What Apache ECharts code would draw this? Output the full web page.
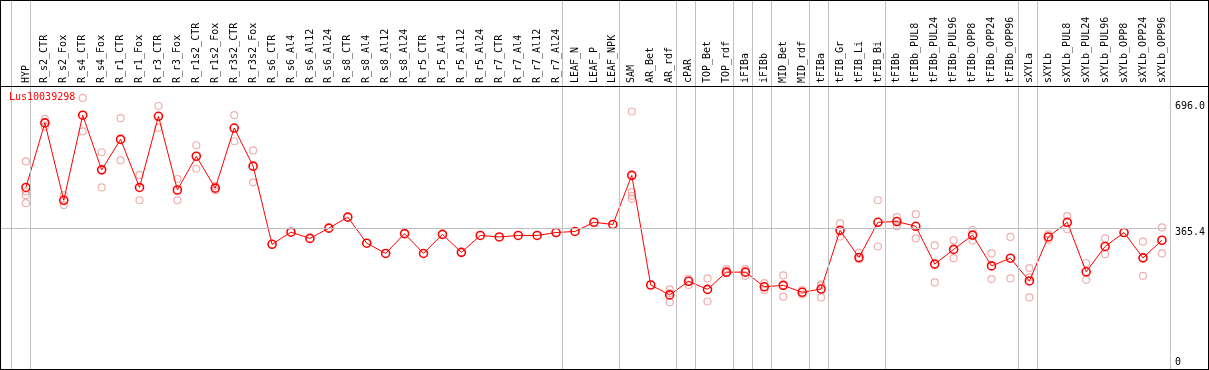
<!DOCTYPE html>
<html>
<head>
<meta charset="utf-8">
<script src="https://cdn.jsdelivr.net/npm/echarts/dist/echarts.min.js"></script>
<style>
  html, body { margin: 0; padding: 0; background: #fff; }
  #frame { width: 1209px; height: 370px; box-sizing: border-box; border: 1px solid #000; }
  #chart { width: 1207px; height: 368px; }
</style>
</head>
<body>
<div id="frame"><div id="chart"></div></div>
<script>
const geneName = 'Lus10039298';

const categories = [
  'HYP','R_s2_CTR','R_s2_Fox','R_s4_CTR','R_s4_Fox','R_r1_CTR','R_r1_Fox','R_r3_CTR','R_r3_Fox',
  'R_r1s2_CTR','R_r1s2_Fox','R_r3s2_CTR','R_r3s2_Fox','R_s6_CTR','R_s6_Al4','R_s6_Al12','R_s6_Al24',
  'R_s8_CTR','R_s8_Al4','R_s8_Al12','R_s8_Al24','R_r5_CTR','R_r5_Al4','R_r5_Al12','R_r5_Al24',
  'R_r7_CTR','R_r7_Al4','R_r7_Al12','R_r7_Al24','LEAF_N','LEAF_P','LEAF_NPK','SAM','AR_Bet','AR_rdf',
  'cPAR','TOP_Bet','TOP_rdf','iFIBa','iFIBb','MID_Bet','MID_rdf','tFIBa','tFIB_Gr','tFIB_Li','tFIB_Bi',
  'tFIBb','tFIBb_PUL8','tFIBb_PUL24','tFIBb_PUL96','tFIBb_OPP8','tFIBb_OPP24','tFIBb_OPP96',
  'sXYLa','sXYLb','sXYLb_PUL8','sXYLb_PUL24','sXYLb_PUL96','sXYLb_OPP8','sXYLb_OPP24','sXYLb_OPP96'
];

// number of categories in each sample group (separated by vertical lines)
const groupSizes = [1, 28, 3, 3, 1, 2, 1, 1, 2, 1, 3, 7, 1, 7];

const means = [
  476, 652, 441, 673, 524, 607, 476, 670, 469,
  561, 474, 638, 534, 321, 354, 337, 365,
  395, 324, 296, 350, 296, 348, 299, 345,
  341, 345, 345, 353, 356, 381, 375, 509, 210, 183,
  220, 198, 245, 245, 205, 209, 190, 199, 359, 285, 381,
  383, 370, 267, 307, 346, 262, 283,
  221, 341, 381, 246, 315, 353, 284, 332
];

const replicates = [
  [547, 465, 455, 433], [663, 642], [455, 428], [720, 629], [572, 476], [665, 550], [510, 441], [698, 639], [499, 441],
  [591, 527], [480, 468], [673, 602], [577, 490], [], [], [], [],
  [], [], [], [], [], [], [], [],
  [], [], [], [], [], [], [], [683, 463, 453, 445], [], [198, 188, 163],
  [227, 210], [228, 165], [253, 242], [253, 235], [215, 196], [236, 178], [196, 184], [212, 209, 176], [378, 342], [298, 280], [441, 315],
  [395, 370], [403, 337], [318, 217], [332, 283], [360, 331], [296, 226], [341, 228],
  [256, 231, 176], [348, 333], [398, 362], [270, 224], [337, 294], [], [328, 235], [367, 296]
];

const yTickValues = [0, 365.4, 696.0];
const refLineValue = 365.4;

// ---- derived ----
const meanData = means.map((v, i) => [i, v]);
const repData = [];
replicates.forEach((arr, i) => arr.forEach(v => repData.push([i, v])));

const boundaries = [-1];
let acc = 0;
groupSizes.forEach(s => { acc += s; boundaries.push(acc - 1); });

const FONT = 'DejaVu Sans Mono';
const X_MIN = -1.3158, X_MAX = 60.2632;
const SEP_OFFSET = 0.24;

const chart = echarts.init(document.getElementById('chart'), null, { renderer: 'canvas' });
chart.setOption({
  animation: false,
  backgroundColor: '#fff',
  title: {
    text: geneName, left: 8, top: 91, padding: 0,
    textStyle: { color: '#ff0000', fontSize: 10, fontFamily: FONT, fontWeight: 'normal' }
  },
  graphic: [{
    type: 'line', silent: true, z: 100,
    shape: { x1: 0, y1: 85.5, x2: 1207, y2: 85.5 },
    style: { stroke: '#000', lineWidth: 1 }
  }],
  grid: [
    { left: 0, right: 37, top: 85, bottom: 7, containLabel: false },
    { left: 0, right: 37, top: 0, bottom: 0, containLabel: false }
  ],
  xAxis: [
    {
      type: 'value', gridIndex: 0, position: 'top', min: X_MIN, max: X_MAX,
      axisLine: { show: false }, axisTick: { show: false }, splitLine: { show: false },
      axisLabel: {
        customValues: categories.map((c, i) => i),
        formatter: v => categories[Math.round(v)] || '',
        rotate: 90, margin: 3, color: '#000', fontSize: 10, fontFamily: FONT,
        showMinLabel: true, showMaxLabel: true, hideOverlap: false
      }
    },
    { type: 'value', gridIndex: 1, min: X_MIN, max: X_MAX, show: false }
  ],
  yAxis: [
    {
      type: 'value', gridIndex: 0, position: 'right', min: 0, max: 752.6,
      axisLine: { show: false }, axisTick: { show: false }, splitLine: { show: false },
      axisLabel: {
        customValues: yTickValues,
        formatter: v => {
          if (v === 0) return '0';
          if (Math.abs(v - refLineValue) < 0.01) return '{d|' + v.toFixed(1) + '}';
          return v.toFixed(1);
        },
        margin: 8, color: '#000', fontSize: 10, fontFamily: FONT,
        rich: { d: { color: '#000', fontSize: 10, fontFamily: FONT, padding: [8, 0, 0, 0] } }
      }
    },
    { type: 'value', gridIndex: 1, min: 0, max: 1, show: false }
  ],
  series: [
    {
      type: 'line', xAxisIndex: 1, yAxisIndex: 1, data: [], silent: true, z: 1,
      markLine: {
        silent: true, symbol: 'none', label: { show: false },
        lineStyle: { color: '#c0c0c0', width: 1, type: 'solid' },
        emphasis: { disabled: true },
        data: boundaries.map(b => ({ xAxis: b + SEP_OFFSET }))
      }
    },
    {
      type: 'scatter', xAxisIndex: 0, yAxisIndex: 0, data: repData, z: 2,
      symbol: 'circle', symbolSize: 7,
      itemStyle: { color: 'rgba(0,0,0,0)', borderColor: '#ec9b9b', borderWidth: 1.2 },
      silent: true
    },
    {
      type: 'line', xAxisIndex: 0, yAxisIndex: 0, data: meanData, z: 3,
      symbol: 'circle', symbolSize: 8, showAllSymbol: true,
      lineStyle: { color: '#ff0000', width: 1 },
      itemStyle: { color: 'rgba(0,0,0,0)', borderColor: '#ff0000', borderWidth: 1.6 },
      silent: true,
      markLine: {
        silent: true, symbol: 'none', label: { show: false },
        lineStyle: { color: '#c0c0c0', width: 1, type: 'solid' },
        emphasis: { disabled: true },
        data: [{ yAxis: refLineValue }]
      }
    }
  ]
});
</script>
</body>
</html>
